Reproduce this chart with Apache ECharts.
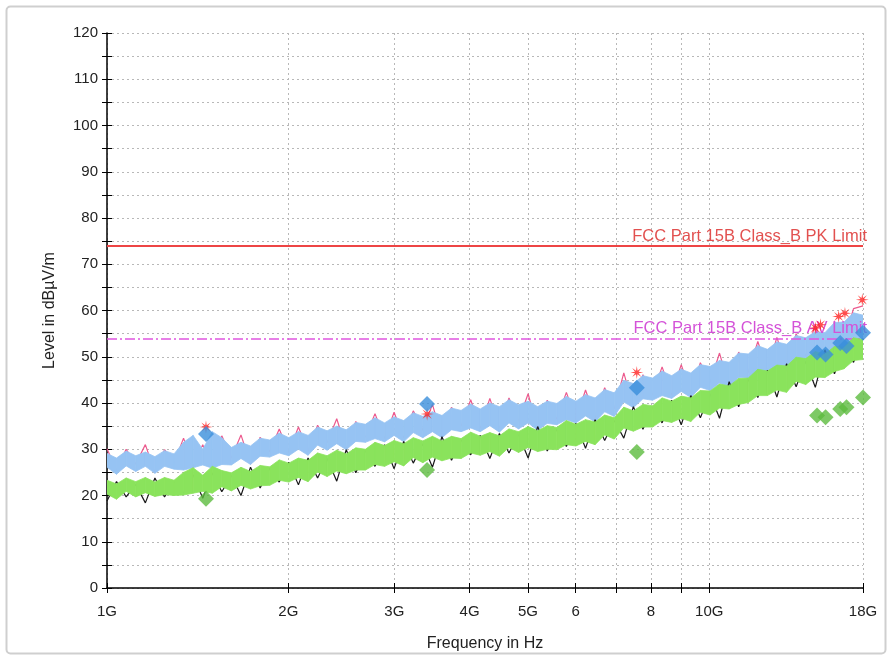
<!DOCTYPE html>
<html><head><meta charset="utf-8">
<script src="https://cdn.jsdelivr.net/npm/echarts@6/dist/echarts.min.js"></script>
<style>html,body{margin:0;padding:0;background:#fff}#c{width:888px;height:657px}</style>
</head><body><div id="c"></div>
<script>
// Frequency sweep (GHz)
const freqGHz = [1.000,1.037,1.076,1.116,1.158,1.201,1.246,1.292,1.340,1.390,
1.442,1.496,1.551,1.609,1.669,1.731,1.796,1.863,1.932,2.004,
2.079,2.157,2.237,2.320,2.407,2.496,2.589,2.686,2.786,2.890,
2.997,3.109,3.225,3.345,3.470,3.599,3.733,3.872,4.017,4.166,
4.322,4.483,4.650,4.823,5.003,5.189,5.383,5.583,5.791,6.007,
6.231,6.463,6.704,6.954,7.213,7.482,7.761,8.050,8.350,8.661,
8.984,9.319,9.666,10.03,10.40,10.79,11.19,11.61,12.04,12.49,
12.95,13.44,13.94,14.46,15.00,15.56,16.14,16.74,17.36,18.00];
// Peak trace band (light blue): lower / upper envelope, dBµV/m
const peakLo = [26.1,24.6,26.4,25.2,26.3,24.8,26.3,25.7,25.5,26.0,
26.6,25.9,26.7,26.6,28.0,26.7,28.5,28.3,29.2,28.6,
30.0,28.7,30.9,29.8,31.2,29.9,31.7,31.5,32.3,31.6,
33.0,31.6,33.6,32.5,33.8,32.5,34.2,33.8,34.6,33.8,
35.1,33.7,35.7,34.4,35.7,34.1,35.6,35.3,36.4,35.7,
37.2,35.9,38.1,37.1,40.2,39.0,40.9,40.6,41.6,41.0,
42.5,41.2,43.4,42.7,44.3,43.4,45.5,45.4,46.6,46.2,
47.9,46.9,49.2,48.5,50.2,49.5,51.9,52.2,53.7,53.6];
const peakHi = [29.1,28.1,29.6,28.6,29.4,28.4,29.7,29.0,31.5,33.0,
30.0,33.8,32.5,30.4,31.5,30.7,32.4,32.0,33.5,32.5,
33.8,33.0,34.8,34.0,35.0,34.2,35.8,35.4,36.8,35.7,
37.0,36.2,37.9,37.1,38.1,37.3,38.9,38.4,39.8,38.7,
40.0,39.2,40.7,39.6,40.4,39.2,40.4,39.9,41.4,40.4,
41.8,41.1,42.9,42.2,44.9,44.2,45.9,45.4,46.9,45.9,
47.3,46.5,48.3,47.9,49.2,48.8,50.8,50.6,52.4,51.6,
53.2,52.7,54.6,54.1,55.4,55.2,57.4,57.5,59.5,59.0];
// Pink max-hold trace
const pinkTrace = [30.1,25.4,30.0,26.8,31.0,24.9,29.9,27.0,32.4,26.2,
31.0,26.1,32.9,28.1,33.1,26.8,32.6,29.5,34.4,29.3,
34.8,29.5,35.2,31.4,36.6,30.0,36.0,32.6,37.7,32.3,
38.0,32.4,38.3,34.1,39.7,32.6,39.1,35.0,40.7,34.5,
41.0,34.5,41.1,36.1,42.0,34.2,40.6,36.5,42.3,36.4,
42.8,36.7,43.3,38.7,46.5,39.1,46.1,41.8,47.8,41.7,
48.3,42.0,48.7,44.3,50.8,43.5,51.0,46.6,53.3,46.9,
54.2,47.7,55.0,50.1,57.0,49.6,57.6,53.4,60.4,61.0];
// Average trace band (green): lower / upper envelope
const avgLo = [20.3,19.2,20.9,19.7,20.6,19.8,20.2,20.0,20.1,20.5,
20.9,20.5,21.9,21.0,22.2,21.4,22.1,22.2,23.3,22.9,
23.9,23.0,25.1,24.1,25.3,24.7,25.5,25.5,26.7,26.3,
27.3,26.4,28.2,27.1,28.3,27.5,28.1,28.0,29.2,28.7,
29.5,28.5,30.4,29.3,30.4,29.5,30.0,29.9,31.0,30.7,
31.7,31.0,33.1,32.2,34.6,33.9,34.8,34.8,36.2,35.8,
36.7,36.0,38.0,37.4,38.9,38.7,39.7,40.1,41.6,41.6,
42.8,42.3,44.7,44.0,45.6,45.5,46.8,47.4,49.2,49.4];
const avgHi = [23.3,22.5,23.8,23.0,23.9,22.9,23.9,23.3,25.0,26.0,
24.4,26.3,25.4,24.9,26.1,25.2,26.5,26.2,27.7,27.0,
28.1,27.6,29.2,28.6,29.8,29.0,30.3,30.0,31.5,30.8,
31.9,31.2,32.5,31.8,32.8,31.8,32.8,32.3,33.7,32.8,
33.6,32.9,34.4,33.8,34.9,34.0,35.1,34.7,36.2,35.4,
36.4,35.9,37.4,36.8,39.1,38.3,39.7,39.4,41.1,40.4,
41.5,41.1,42.7,42.6,44.1,43.7,45.3,45.4,47.3,46.9,
48.2,48.0,49.9,49.6,51.1,50.6,52.2,52.2,54.1,53.7];
// Black average trace
const blackTrace = [18.8,23.0,19.7,22.4,18.4,23.8,19.7,23.0,20.5,24.5,
19.4,24.8,20.8,24.3,20.0,26.1,21.6,25.9,22.9,27.2,
22.3,28.1,23.8,28.0,23.1,29.9,24.9,29.7,26.3,31.0,
25.8,31.7,27.0,31.2,26.1,32.7,27.6,32.0,28.8,33.0,
28.0,33.4,29.2,33.2,28.1,34.9,29.6,34.4,30.6,35.6,
30.2,36.4,31.9,36.2,32.4,39.2,34.3,39.1,35.7,40.6,
35.3,41.6,36.8,42.0,36.7,44.6,39.2,45.1,41.2,47.1,
41.3,48.5,43.5,49.0,43.4,51.5,46.3,51.9,48.8,53.9];
// Final measurement markers
const starFreq = [1.46,3.40,7.58,15.0,15.3,16.4,16.8,17.95];
const starLevel = [34.8,37.6,46.6,56.2,56.9,58.7,59.4,62.3];
const diaFreq = [1.46,3.40,7.58,15.1,15.6,16.5,16.9,18.0];
const blueDiaLevel = [33.3,39.8,43.3,50.9,50.5,53.0,52.3,55.2];
const greenDiaLevel = [19.3,25.5,29.4,37.3,36.9,38.7,39.1,41.2];
// Limits
const pkLimit = 74, avLimit = 54;
const pkLimitName = 'FCC Part 15B Class_B PK Limit';
const avLimitName = 'FCC Part 15B Class_B AV Limit';
// Axis ticks
const xTickVals = [1,2,3,4,5,6,7,8,9,10,18];
const xTickLabels = ['1G','2G','3G','4G','5G','6','','8','','10G','18G'];

const zip = (xs, ys) => xs.map((x, i) => [x, ys[i]]);
const zip3 = (xs, lo, hi) => xs.map((x, i) => [x, lo[i], hi[i]]);
const labelFor = v => { for (let i = 0; i < xTickVals.length; i++) if (Math.abs(v - xTickVals[i]) < 1e-6) return xTickLabels[i]; return ''; };
const starPath = 'path://M0,-10 L1.15,-2.77 L7.07,-7.07 L2.77,-1.15 L10,0 L2.77,1.15 L7.07,7.07 L1.15,2.77 L0,10 L-1.15,2.77 L-7.07,7.07 L-2.77,1.15 L-10,0 L-2.77,-1.15 L-7.07,-7.07 L-1.15,-2.77 Z';
const gridDot = {type: [2, 3], color: '#b8b8b8', width: 1};
const font = 'Liberation Sans, Arial, sans-serif';

function bandRenderer(color) {
  return function (params, api) {
    const i = params.dataIndexInside;
    const n = params.dataInsideLength;
    if (i >= n - 1) return null;
    const a0 = api.coord([api.value(0, i), api.value(1, i)]);
    const a1 = api.coord([api.value(0, i + 1), api.value(1, i + 1)]);
    const b1 = api.coord([api.value(0, i + 1), api.value(2, i + 1)]);
    const b0 = api.coord([api.value(0, i), api.value(2, i)]);
    return {type: 'polygon', shape: {points: [a0, a1, b1, b0]},
      style: {fill: color, stroke: color, lineWidth: 0.8}};
  };
}

const chart = echarts.init(document.getElementById('c'), null, {renderer: 'canvas'});
chart.setOption({
  animation: false,
  backgroundColor: '#fff',
  textStyle: {fontFamily: font},
  graphic: [{type: 'rect', left: 4, top: 4, shape: {width: 879, height: 647, r: 4}, style: {fill: 'none', stroke: '#cfcfcf', lineWidth: 2}, silent: true}],
  grid: {left: 107, right: 25, top: 33, bottom: 65},
  xAxis: [{
    type: 'log', logBase: 10, min: 1, max: 18,
    name: 'Frequency in Hz', nameLocation: 'middle', nameGap: 48,
    nameTextStyle: {fontSize: 16, color: '#222', fontFamily: font},
    axisLine: {lineStyle: {color: '#000', width: 1.5}},
    axisTick: {show: true, customValues: xTickVals, length: 5, lineStyle: {color: '#000'}},
    axisLabel: {customValues: xTickVals, formatter: labelFor, margin: 16, fontSize: 15, color: '#222', fontFamily: font},
    splitLine: {show: true, lineStyle: gridDot},
    minorTick: {show: false}, minorSplitLine: {show: false}
  }, {
    type: 'log', logBase: 10, min: 1, max: 18, position: 'bottom',
    axisLine: {show: false},
    axisTick: {show: true, inside: true, customValues: xTickVals, length: 5, lineStyle: {color: '#000'}},
    axisLabel: {show: false}, splitLine: {show: false}
  }],
  yAxis: [{
    type: 'value', min: 0, max: 120, interval: 10,
    name: 'Level in dBµV/m', nameLocation: 'middle', nameGap: 49,
    nameTextStyle: {fontSize: 16, color: '#222', fontFamily: font},
    axisLine: {show: true, lineStyle: {color: '#000', width: 1.5}},
    axisTick: {show: true, length: 5, lineStyle: {color: '#000'}},
    minorTick: {show: true, splitNumber: 2, length: 5, lineStyle: {color: '#000'}},
    axisLabel: {fontSize: 15, color: '#222', margin: 9, fontFamily: font},
    splitLine: {show: true, lineStyle: gridDot},
    minorSplitLine: {show: true, lineStyle: gridDot}
  }, {
    type: 'value', min: 0, max: 120, interval: 10, position: 'left',
    axisLine: {show: false},
    axisTick: {show: true, inside: true, length: 5, lineStyle: {color: '#000'}},
    minorTick: {show: true, splitNumber: 2, length: 5, lineStyle: {color: '#000'}},
    axisLabel: {show: false}, splitLine: {show: false}
  }],
  series: [
    {name: 'limits', type: 'line', z: 1, data: [], markLine: {
      silent: true, symbol: 'none',
      data: [
        {yAxis: pkLimit, lineStyle: {color: '#ee4545', width: 2, type: 'solid'},
          label: {formatter: pkLimitName, position: 'insideEndTop', color: '#e2504f', fontSize: 16.5, distance: [-4, 1], fontFamily: font}},
        {yAxis: avLimit, lineStyle: {color: '#e055e0', width: 1.5, type: [10, 3, 2, 3]},
          label: {formatter: avLimitName, position: 'insideEndTop', color: '#d452d8', fontSize: 16.5, distance: [-4, 1], fontFamily: font}}
      ]}},
    {name: 'pink', type: 'line', z: 2, data: zip(freqGHz, pinkTrace), symbol: 'none', lineStyle: {color: '#ec5a8e', width: 1.2}},
    {name: 'peakBand', type: 'custom', z: 3, data: zip3(freqGHz, peakLo, peakHi), renderItem: bandRenderer('#96c3f3'),
      encode: {x: 0, y: [1, 2]}, clip: true},
    {name: 'black', type: 'line', z: 4, data: zip(freqGHz, blackTrace), symbol: 'none', lineStyle: {color: '#1a1a1a', width: 1.2}},
    {name: 'avgBand', type: 'custom', z: 5, data: zip3(freqGHz, avgLo, avgHi), renderItem: bandRenderer('#8ae35c'),
      encode: {x: 0, y: [1, 2]}, clip: true},
    {name: 'stars', type: 'scatter', z: 6, data: zip(starFreq, starLevel), symbol: starPath, symbolSize: 13,
      itemStyle: {color: '#ff2020'}},
    {name: 'blueDia', type: 'scatter', z: 7, data: zip(diaFreq, blueDiaLevel), symbol: 'diamond', symbolSize: 16,
      itemStyle: {color: '#3a8edb'}},
    {name: 'greenDia', type: 'scatter', z: 7, data: zip(diaFreq, greenDiaLevel), symbol: 'diamond', symbolSize: 16,
      itemStyle: {color: '#5cbc3e'}}
  ]
});
</script>
</body></html>
